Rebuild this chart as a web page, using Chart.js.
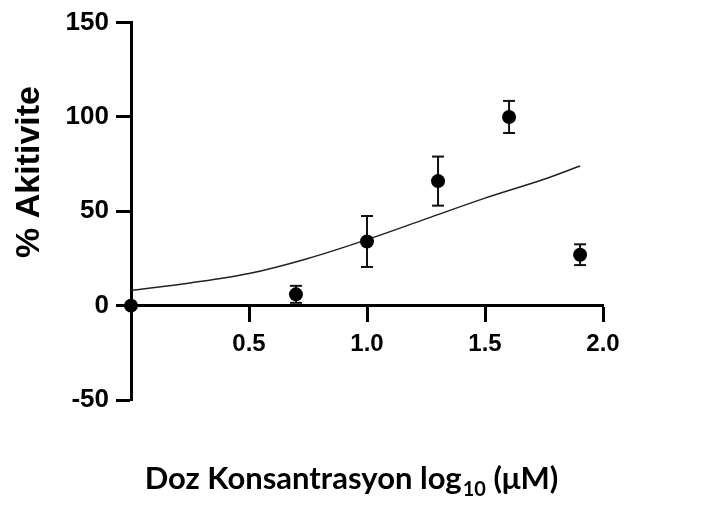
<!DOCTYPE html>
<html>
<head>
<meta charset="utf-8">
<script src="https://cdn.jsdelivr.net/npm/chart.js@4.4.1/dist/chart.umd.min.js"></script>
<style>
  html, body { margin: 0; padding: 0; background: #fff; }
</style>
</head>
<body>
<canvas id="chart" width="727" height="514"></canvas>
<script>
// dose (log10 uM) and mean % activity with error (SEM)
const doseLog = [0, 0.699, 1.0, 1.301, 1.602, 1.903];
const activity = [0, 6, 34, 66, 100, 27];
const sem = [0, 4.5, 13.5, 13, 8.5, 5.5];

// fitted curve
const fitX = [0, 0.25, 0.5, 0.75, 1.0, 1.25, 1.5, 1.75, 1.903];
const fitY = [8, 12, 17, 25, 35, 46, 57, 67, 74];

// axis ticks
const yTicks = [-50, 0, 50, 100, 150];
const xTicks = [0.5, 1.0, 1.5, 2.0];

const yTitle = "% Akitivite";
const xTitle = "Doz Konsantrasyon log";
const xTitleSub = "10";
const xTitleEnd = " (μM)";

// error bars: one segment per point, broken by nulls
let errData = [];
doseLog.forEach((x, i) => {
    if (sem[i] > 0) {
        errData.push({ x: x, y: activity[i] - sem[i] });
        errData.push({ x: x, y: activity[i] + sem[i] });
        errData.push({ x: x, y: null });
    }
});

const tickFontX = { family: "'Liberation Sans', Arial, sans-serif", size: 24, weight: "bold" };
const tickFontY = { family: "'Liberation Sans', Arial, sans-serif", size: 26, weight: "bold" };

// axis titles drawn by hand (y title sits off-centre, x title has a subscript)
const titlePlugin = {
    id: "titles",
    afterDraw(chart) {
        const ctx = chart.ctx;
        ctx.save();
        ctx.fillStyle = "#000";
        ctx.font = "bold 34px 'Liberation Sans', Arial, sans-serif";
        ctx.translate(30, 172);
        ctx.rotate(-Math.PI / 2);
        ctx.textAlign = "center";
        ctx.textBaseline = "middle";
        ctx.fillText(yTitle, 0, 0);
        ctx.restore();

        ctx.save();
        ctx.fillStyle = "#000";
        ctx.textBaseline = "alphabetic";
        ctx.textAlign = "left";
        const big = "bold 31px Lato, 'Open Sans', sans-serif";
        const small = "bold 20px Lato, 'Open Sans', sans-serif";
        ctx.font = big;
        let w1 = ctx.measureText(xTitle).width;
        let w3 = ctx.measureText(xTitleEnd).width;
        ctx.font = small;
        let w2 = ctx.measureText(xTitleSub).width;
        let x = 351 - (w1 + w2 + w3) / 2;
        const base = 489;
        ctx.font = big;
        ctx.fillText(xTitle, x, base);
        ctx.font = small;
        ctx.fillText(xTitleSub, x + w1 + 1, base + 7);
        ctx.font = big;
        ctx.fillText(xTitleEnd, x + w1 + w2 + 1, base);
        ctx.restore();
    }
};

new Chart(document.getElementById("chart"), {
    type: "scatter",
    data: {
        datasets: [
            {
                label: "activity",
                data: doseLog.map((x, i) => ({ x: x, y: activity[i] })),
                pointRadius: 7,
                pointBackgroundColor: "#000",
                pointBorderWidth: 0,
                showLine: false,
                clip: false,
                order: 0
            },
            {
                label: "error",
                data: errData,
                showLine: true,
                spanGaps: false,
                borderColor: "#111",
                borderWidth: 2,
                pointStyle: "line",
                pointRadius: 6,
                pointBorderColor: "#111",
                pointBorderWidth: 2,
                clip: false,
                order: 1
            },
            {
                label: "fit",
                data: fitX.map((x, i) => ({ x: x, y: fitY[i] })),
                showLine: true,
                borderColor: "#222",
                borderWidth: 1.5,
                pointRadius: 0,
                tension: 0.4,
                cubicInterpolationMode: "monotone",
                order: 2
            }
        ]
    },
    options: {
        responsive: false,
        animation: false,
        devicePixelRatio: 1,
        layout: { padding: { left: 0, right: 124, top: 20, bottom: 114 } },
        plugins: {
            legend: { display: false },
            tooltip: { enabled: false }
        },
        scales: {
            x: {
                type: "linear",
                position: { y: 0 },
                min: 0,
                max: 2,
                afterFit: (scale) => { scale.height = 0; },
                afterBuildTicks: (scale) => { scale.ticks = xTicks.map(v => ({ value: v })); },
                border: { display: true, color: "#000", width: 3 },
                grid: { drawOnChartArea: false, drawTicks: true, tickLength: 15, tickWidth: 3, tickColor: "#000" },
                ticks: {
                    color: "#000",
                    font: tickFontX,
                    padding: 9,
                    maxRotation: 0,
                    callback: (v) => Number(v).toFixed(1)
                }
            },
            y: {
                type: "linear",
                position: "left",
                min: -50,
                max: 150,
                afterFit: (scale) => { scale.width = 131; },
                afterBuildTicks: (scale) => { scale.ticks = yTicks.map(v => ({ value: v })); },
                border: { display: true, color: "#000", width: 3 },
                grid: { drawOnChartArea: false, drawTicks: true, tickLength: 15, tickWidth: 3, tickColor: "#000" },
                ticks: {
                    color: "#000",
                    font: tickFontY,
                    padding: 7
                }
            }
        }
    },
    plugins: [titlePlugin]
});
</script>
</body>
</html>
